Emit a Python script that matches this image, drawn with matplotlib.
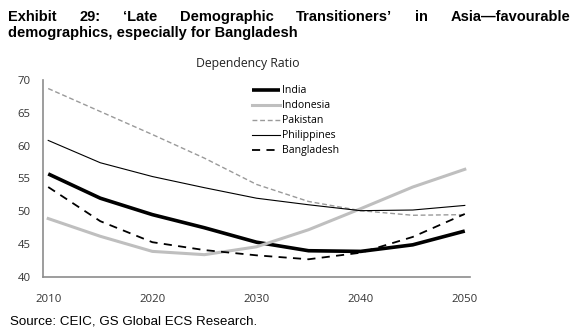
import matplotlib
matplotlib.use('Agg')
import matplotlib.pyplot as plt

# ---------------------------------------------------------
# Data
# ---------------------------------------------------------
years = [2010, 2015, 2020, 2025, 2030, 2035, 2040, 2045, 2050]

india      = [55.7, 52.0, 49.5, 47.5, 45.3, 44.0, 43.9, 44.9, 47.0]
indonesia  = [48.9, 46.2, 43.9, 43.4, 44.6, 47.2, 50.4, 53.7, 56.4]
pakistan   = [68.7, 65.2, 61.7, 58.1, 54.1, 51.5, 50.1, 49.4, 49.5]
philippines = [60.8, 57.4, 55.3, 53.6, 52.0, 51.0, 50.1, 50.2, 50.9]
bangladesh = [53.7, 48.5, 45.3, 44.1, 43.3, 42.7, 43.7, 46.1, 49.6]

y_ticks = [40, 45, 50, 55, 60, 65, 70]
x_ticks = [2010, 2020, 2030, 2040, 2050]

title_line1 = ['Exhibit', '29:', '\u2018Late', 'Demographic', 'Transitioners\u2019',
               'in', 'Asia\u2014favourable']
title_line2 = 'demographics, especially for Bangladesh'
chart_title = 'Dependency Ratio'
source = 'Source: CEIC, GS Global ECS Research.'

# ---------------------------------------------------------
# Figure
# ---------------------------------------------------------
W, H = 577, 331
fig = plt.figure(figsize=(W / 100, H / 100), dpi=100)
ax = fig.add_axes([43 / W, 1 - 277 / H, (470 - 43) / W, (277 - 80) / H])

ax.plot(years, india, color='black', lw=2.6, label='India', solid_capstyle='butt')
ax.plot(years, indonesia, color='#bfbfbf', lw=2.2, label='Indonesia')
ax.plot(years, pakistan, color='#9a9a9a', lw=1.0, ls=(0, (3.5, 2)), label='Pakistan')
ax.plot(years, philippines, color='black', lw=0.8, label='Philippines')
ax.plot(years, bangladesh, color='black', lw=1.3, ls=(0, (4.5, 3.5)), label='Bangladesh')

ax.set_xlim(2009.5, 2050.5)
ax.set_ylim(40, 70)
ax.set_xticks(x_ticks)
ax.set_yticks(y_ticks)
ax.tick_params(length=0, labelsize=8.2, colors='#333333', labelfontfamily='Open Sans')
ax.tick_params(axis='y', pad=9)
ax.tick_params(axis='x', pad=12)
for s in ['top', 'right']:
    ax.spines[s].set_visible(False)
for s in ['left', 'bottom']:
    ax.spines[s].set_color('#8c8c8c')
    ax.spines[s].set_linewidth(1.2)

# legend sits inside the plot, to the right of centre
leg = ax.legend(loc='upper left', bbox_to_anchor=((247 - 43) / (470 - 43), 1.0),
                frameon=False, handlelength=2.6, handletextpad=0.25,
                labelspacing=0.38, borderaxespad=0.1,
                prop={'family': 'Open Sans', 'size': 7.6})

fig.text(248 / W, 1 - 67 / H, chart_title, ha='center', va='baseline',
         fontsize=8.8, family='Open Sans', color='#222222')

# justified first title line
fig.canvas.draw()
r = fig.canvas.get_renderer()
x0, x1 = 8, 570
texts = [fig.text(0, 1 - 21 / H, w, fontsize=10.5, fontweight='bold',
                  family='Liberation Sans', va='baseline') for w in title_line1]
widths = [t.get_window_extent(r).width for t in texts]
gap = (x1 - x0 - sum(widths)) / (len(texts) - 1)
x = x0
for t, w in zip(texts, widths):
    t.set_x(x / W)
    x += w + gap

fig.text(x0 / W, 1 - 37 / H, title_line2, fontsize=10.5, fontweight='bold',
         family='Liberation Sans', va='baseline')
fig.text(10 / W, 1 - 325 / H, source, fontsize=9.6, family='Liberation Sans',
         va='baseline')

fig.savefig('out.png', dpi=100)
